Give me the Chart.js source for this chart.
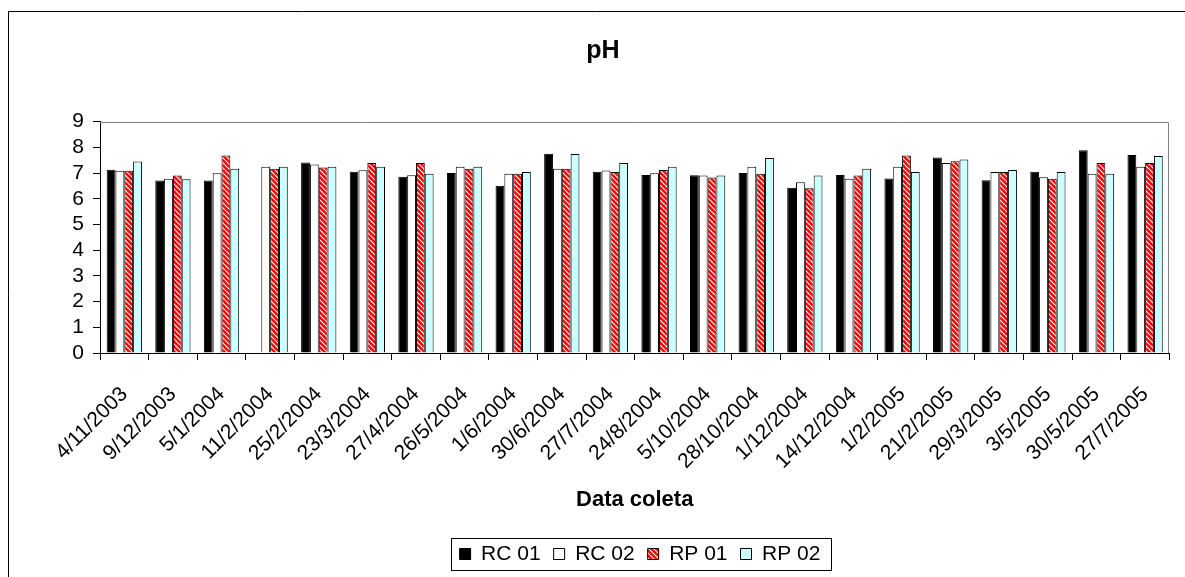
<!DOCTYPE html>
<html><head><meta charset="utf-8">
<script src="https://cdn.jsdelivr.net/npm/chart.js@4.4.1/dist/chart.umd.min.js"></script>
<style>html,body{margin:0;padding:0;background:#fff;overflow:hidden;}</style>
</head><body>
<canvas id="c" width="1185" height="577"></canvas>
<script>
const categories = ['4/11/2003','9/12/2003','5/1/2004','11/2/2004','25/2/2004','23/3/2004','27/4/2004','26/5/2004','1/6/2004','30/6/2004','27/7/2004','24/8/2004','5/10/2004','28/10/2004','1/12/2004','14/12/2004','1/2/2005','21/2/2005','29/3/2005','3/5/2005','30/5/2005','27/7/2005'];
const rc01 = [7.13, 6.71, 6.71, null, 7.41, 7.05, 6.86, 7.00, 6.51, 7.75, 7.05, 6.93, 6.92, 7.00, 6.43, 6.93, 6.79, 7.61, 6.72, 7.05, 7.89, 7.70];
const rc02 = [7.09, 6.78, 6.99, 7.25, 7.33, 7.11, 6.92, 7.25, 6.97, 7.17, 7.10, 6.99, 6.91, 7.25, 6.64, 6.78, 7.25, 7.39, 7.04, 6.84, 6.97, 7.25];
const rp01 = [7.09, 6.91, 7.68, 7.17, 7.22, 7.39, 7.39, 7.17, 6.97, 7.17, 7.04, 7.12, 6.83, 6.97, 6.41, 6.91, 7.68, 7.46, 7.04, 6.78, 7.39, 7.39];
const rp02 = [7.45, 6.76, 7.17, 7.25, 7.25, 7.25, 6.97, 7.25, 7.04, 7.74, 7.39, 7.25, 6.91, 7.59, 6.91, 7.17, 7.04, 7.53, 7.12, 7.04, 6.97, 7.67];
const seriesNames = ['RC 01', 'RC 02', 'RP 01', 'RP 02'];
const yMin = 0, yMax = 9, yStep = 1;

function hatch() {
  const s = 5, cv = document.createElement('canvas');
  cv.width = s; cv.height = s;
  const g = cv.getContext('2d');
  g.fillStyle = '#ff0000'; g.fillRect(0, 0, s, s);
  g.strokeStyle = '#ffffff'; g.lineWidth = 1.2;
  g.beginPath();
  for (const k of [-s, 0, s]) { g.moveTo(k, 0); g.lineTo(k + s, s); }
  g.stroke();
  return g.createPattern(cv, 'repeat');
}

const FONT = "'Liberation Sans', Arial, sans-serif";
Chart.defaults.font.family = FONT;
Chart.defaults.color = '#000';

const frame = {
  id: 'frame',
  afterUpdate(chart) {
    const t = chart.titleBlock;
    if (t) { const dx = 603 - (t.left + t.right) / 2; t.left += dx; t.right += dx; }
    const lg = chart.legend;
    if (lg) {
      const dx = 640 - (lg.left + lg.right) / 2;
      lg.left += dx; lg.right += dx;
      (lg.legendHitBoxes || []).forEach(h => { h.left += dx; });
    }
  },
  beforeDraw(chart) {
    const c = chart.ctx; c.save(); c.fillStyle = '#fff'; c.fillRect(0, 0, chart.width, chart.height); c.restore();
  },
  afterDraw(chart) {
    const c = chart.ctx, a = chart.chartArea;
    c.save();
    c.lineWidth = 1;
    c.strokeStyle = '#808080';
    const t = Math.round(a.top) + 0.5, r = Math.round(a.right) - 0.5;
    c.beginPath(); c.moveTo(a.left, t); c.lineTo(r, t); c.lineTo(r, a.bottom); c.stroke();
    c.strokeStyle = '#000';
    c.beginPath(); c.moveTo(8.5, 577); c.lineTo(8.5, 11.5); c.lineTo(1185, 11.5); c.stroke();
    const hb = chart.legend && chart.legend.legendHitBoxes;
    if (hb && hb.length) {
      let l = Infinity, rr = -Infinity, cy = 0;
      hb.forEach(h => { l = Math.min(l, h.left); rr = Math.max(rr, h.left + h.width); cy = h.top + h.height / 2; });
      c.strokeStyle = '#000';
      c.strokeRect(Math.round(l - 9) + 0.5, Math.round(cy - 16) + 0.5, Math.round(rr - l + 19), 32);
    }
    c.restore();
  }
};

new Chart(document.getElementById('c'), {
  type: 'bar',
  data: {
    labels: categories,
    datasets: [
      { label: seriesNames[0], data: rc01, backgroundColor: '#000000' },
      { label: seriesNames[1], data: rc02, backgroundColor: '#ffffff' },
      { label: seriesNames[2], data: rp01, backgroundColor: hatch() },
      { label: seriesNames[3], data: rp02, backgroundColor: '#ccffff' }
    ].map(d => Object.assign(d, { borderColor: '#000', borderWidth: 1, categoryPercentage: 0.726, barPercentage: 1.0 }))
  },
  options: {
    responsive: false,
    animation: false,
    layout: { padding: { left: 0, right: 3, top: 0, bottom: 2.5 } },
    plugins: {
      title: { display: true, text: 'pH', font: { size: 25, weight: 'bold', family: FONT }, color: '#000', padding: { top: 36, bottom: 55.7 } },
      legend: {
        display: true, position: 'bottom',
        labels: { boxWidth: 11, boxHeight: 11, padding: 13, font: { size: 21, family: FONT }, color: '#000' }
      },
      tooltip: { enabled: false }
    },
    scales: {
      x: {
        grid: { display: true, offset: true, drawOnChartArea: false, drawTicks: true, tickLength: 7, color: '#000' },
        border: { display: true, color: '#000', width: 1 },
        ticks: { autoSkip: false, maxRotation: 45, minRotation: 45, padding: 22, font: { size: 21, family: FONT }, color: '#000' },
        title: { display: true, text: 'Data coleta', font: { size: 22, weight: 'bold', family: FONT }, color: '#000', padding: { top: 0, bottom: 17.3 } },
        afterFit(s) { s.height = 177.5; }
      },
      y: {
        min: yMin, max: yMax,
        grid: { display: true, drawOnChartArea: false, drawTicks: true, tickLength: 7, color: '#000' },
        border: { display: true, color: '#000', width: 1 },
        ticks: { stepSize: yStep, autoSkip: false, padding: 9, font: { size: 21, family: FONT }, color: '#000' },
        afterFit(s) { s.width = 100; }
      }
    }
  },
  plugins: [frame]
});
</script>
</body></html>
